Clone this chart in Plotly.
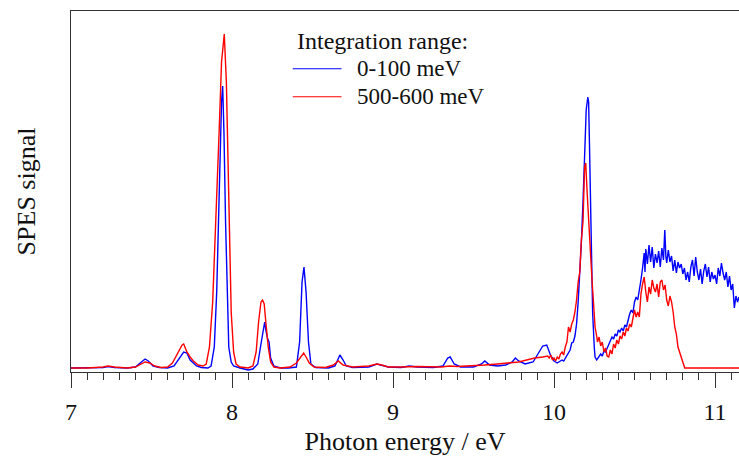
import plotly.graph_objects as go

# === Data (photon energy in eV, SPES signal in arb. units) ===
blue_energy = [
    7.00, 7.10, 7.20, 7.23, 7.27, 7.35, 7.40, 7.43, 7.46, 7.48, 7.51, 7.55,
    7.60, 7.64, 7.67, 7.70, 7.72, 7.74, 7.76, 7.78, 7.81, 7.85, 7.87, 7.89,
    7.905, 7.92, 7.935, 7.942, 7.95, 7.96, 7.97, 7.98, 7.995, 8.01, 8.05, 8.10,
    8.13, 8.16, 8.18, 8.195, 8.203, 8.21, 8.22, 8.23, 8.24, 8.26, 8.30, 8.35,
    8.40, 8.42, 8.435, 8.447, 8.46, 8.475, 8.49, 8.52, 8.60, 8.64, 8.67, 8.69,
    8.71, 8.75, 8.85, 8.90, 8.93, 8.97, 9.05, 9.10, 9.15, 9.25, 9.31, 9.34,
    9.355, 9.38, 9.42, 9.50, 9.55, 9.57, 9.60, 9.65, 9.70, 9.74, 9.76, 9.78,
    9.82, 9.87, 9.90, 9.93, 9.955, 9.97, 9.98, 9.99, 10.00, 10.01, 10.02, 10.03,
    10.04, 10.05, 10.06, 10.07, 10.08, 10.09, 10.10, 10.11, 10.12, 10.13, 10.14,
    10.15, 10.16, 10.17, 10.18, 10.19, 10.20, 10.21, 10.215, 10.22, 10.225,
    10.23, 10.235, 10.24, 10.25, 10.255, 10.265, 10.28, 10.29, 10.30, 10.31,
    10.32, 10.33, 10.34, 10.35, 10.36, 10.37, 10.38, 10.39, 10.40, 10.41, 10.42,
    10.43, 10.44, 10.45, 10.46, 10.47, 10.48, 10.49, 10.50, 10.51, 10.52, 10.53,
    10.54, 10.55, 10.56, 10.565, 10.57, 10.58, 10.59, 10.60, 10.61, 10.62, 10.63,
    10.64, 10.65, 10.66, 10.67, 10.68, 10.688, 10.695, 10.70, 10.71, 10.72, 10.73,
    10.74, 10.75, 10.76, 10.77, 10.78, 10.79, 10.80, 10.81, 10.82, 10.83, 10.84,
    10.85, 10.86, 10.87, 10.88, 10.89, 10.90, 10.91, 10.92, 10.93, 10.94, 10.95,
    10.96, 10.97, 10.98, 10.99, 11.00, 11.01, 11.02, 11.03, 11.04, 11.05, 11.06,
    11.07, 11.08, 11.09, 11.10, 11.11, 11.12, 11.13, 11.14, 11.149,
]
blue_signal = [
    4, 4, 4.5, 5.5, 4.5, 4, 5, 9, 13, 11, 6, 4.5,
    4, 6, 13, 20, 19, 12, 9, 6, 4.5, 4, 6, 25,
    80, 190, 270, 286, 240, 150, 70, 25, 10, 6, 4, 2,
    3, 8, 28, 45, 50, 42, 34, 30, 14, 6, 4, 4,
    5, 30, 90, 105, 80, 30, 8, 4.5, 4, 6, 17, 12,
    6, 4.5, 5, 8, 7, 5, 4.5, 6, 5, 4.5, 6, 14,
    15, 8, 5, 5, 8, 11, 7, 6, 7, 10, 14, 11,
    8, 10, 18, 26, 27, 20, 16, 14, 11, 10, 9, 10,
    11, 12, 11, 14, 16, 20, 22, 29, 30, 36, 48,
    70, 95, 130, 170, 220, 262, 275, 270, 230, 192,
    140, 100, 59, 25, 15, 12, 15, 18, 16, 21,
    20, 24, 27, 31, 35, 33, 38, 36, 42, 40, 44,
    41, 47, 45, 52, 58, 62, 59, 70, 75, 72, 85,
    92, 104, 119, 100, 123, 108, 127, 110, 125, 104, 118,
    109, 121, 105, 124, 112, 142, 115, 109, 122, 110, 116,
    101, 112, 99, 110, 104, 108, 98, 104, 92, 100, 90,
    105, 112, 96, 115, 100, 92, 103, 88, 101, 108, 95,
    105, 90, 100, 93, 97, 88, 104, 96, 109, 99, 92,
    100, 85, 96, 82, 88, 64, 76, 70, 75,
]

red_energy = [
    7.00, 7.10, 7.20, 7.23, 7.27, 7.35, 7.40, 7.44, 7.46, 7.49, 7.52, 7.56,
    7.60, 7.63, 7.66, 7.69, 7.70, 7.72, 7.74, 7.76, 7.79, 7.82, 7.84, 7.86,
    7.88, 7.90, 7.92, 7.935, 7.952, 7.965, 7.975, 7.985, 7.995, 8.01, 8.025,
    8.05, 8.10, 8.13, 8.15, 8.165, 8.18, 8.19, 8.20, 8.21, 8.225, 8.24, 8.26,
    8.30, 8.36, 8.40, 8.43, 8.445, 8.46, 8.48, 8.51, 8.58, 8.63, 8.66, 8.69,
    8.75, 8.85, 8.90, 8.93, 8.97, 9.05, 9.15, 9.30, 9.35, 9.40, 9.50, 9.57,
    9.65, 9.72, 9.78, 9.83, 9.88, 9.93, 9.96, 9.97, 9.98, 9.99, 10.00, 10.01,
    10.02, 10.03, 10.04, 10.05, 10.06, 10.07, 10.08, 10.09, 10.10, 10.11, 10.12,
    10.13, 10.14, 10.15, 10.16, 10.17, 10.18, 10.19, 10.197, 10.205, 10.215,
    10.225, 10.235, 10.245, 10.255, 10.265, 10.27, 10.28, 10.29, 10.30, 10.31,
    10.32, 10.33, 10.34, 10.35, 10.36, 10.37, 10.38, 10.39, 10.40, 10.41, 10.42,
    10.43, 10.44, 10.45, 10.46, 10.47, 10.48, 10.49, 10.50, 10.51, 10.52, 10.53,
    10.54, 10.55, 10.56, 10.57, 10.58, 10.59, 10.60, 10.61, 10.62, 10.63, 10.64,
    10.65, 10.66, 10.67, 10.68, 10.69, 10.70, 10.71, 10.72, 10.73, 10.74, 10.75,
    10.76, 10.77, 10.78, 10.79, 10.80, 10.805, 10.812, 10.90, 11.00, 11.149,
]
red_signal = [
    4, 4, 5, 6, 5, 4, 5, 8, 10, 9, 6, 4.5,
    5, 9, 18, 27, 28, 20, 15, 11, 7, 6, 8, 25,
    70, 150, 240, 310, 338, 290, 200, 120, 60, 20, 8,
    5, 4, 6, 20, 50, 70, 72, 68, 50, 25, 10, 5,
    4, 5, 9, 16, 19, 15, 9, 5, 4.5, 7, 11, 7,
    5, 6, 8, 7, 5, 5, 5.5, 5, 6, 5.5, 6, 7,
    8, 9, 10, 12, 14, 15, 16, 14, 17, 12, 14, 11,
    15, 13, 18, 20, 17, 25, 30, 45, 40, 48, 52,
    60, 72, 90, 100, 132, 150, 205, 209, 182, 150,
    120, 95, 70, 45, 36, 30, 35, 26, 30, 20,
    24, 16, 15, 22, 18, 28, 24, 32, 28, 36, 33,
    40, 36, 44, 41, 48, 45, 56, 62, 55, 60, 55,
    78, 88, 95, 80, 70, 85, 78, 92, 84, 80, 88,
    75, 90, 92, 82, 87, 72, 66, 76, 70, 60, 45,
    38, 25, 20, 14, 11, 8, 4, 4, 4, 4,
]

series_names = ["0-100 meV", "500-600 meV"]
series_colors = ["#0000ff", "#ff0000"]
x_ticks = [7, 8, 9, 10, 11]
legend_title = "Integration range:"

font_family = "Liberation Serif, Times New Roman, serif"

# === Build figure ===
fig = go.Figure()
fig.add_trace(go.Scatter(
    x=blue_energy, y=blue_signal, mode="lines", name=series_names[0],
    line=dict(color=series_colors[0], width=1.4),
))
fig.add_trace(go.Scatter(
    x=red_energy, y=red_signal, mode="lines", name=series_names[1],
    line=dict(color=series_colors[1], width=1.4),
))

# === Hand-placed legend (paper coords of the plot area) ===
fig.add_annotation(
    text=legend_title, xref="paper", yref="paper", x=0.335, y=0.918,
    xanchor="left", yanchor="middle", showarrow=False, font=dict(size=24),
)
for i, (name, color) in enumerate(zip(series_names, series_colors)):
    ly = 0.84 - i * 0.0776
    fig.add_shape(
        type="line", xref="paper", yref="paper",
        x0=0.332, x1=0.405, y0=ly, y1=ly,
        line=dict(color=color, width=1.2),
    )
    fig.add_annotation(
        text=name, xref="paper", yref="paper", x=0.425, y=ly,
        xanchor="left", yanchor="middle", showarrow=False, font=dict(size=23),
    )

fig.update_layout(
    width=739,
    height=456,
    margin=dict(l=71, r=0, t=11, b=84),
    paper_bgcolor="white",
    plot_bgcolor="white",
    font=dict(family=font_family, color="#111111", size=24),
    showlegend=False,
)

fig.update_xaxes(
    range=[7, 11.149],
    tickvals=x_ticks,
    ticks="outside",
    ticklen=15,
    tickwidth=1,
    tickcolor="#333333",
    tickfont=dict(size=24),
    ticklabelstandoff=3,
    minor=dict(dtick=0.1, ticks="outside", ticklen=7, tickwidth=1, tickcolor="#333333"),
    showline=True,
    linecolor="#333333",
    linewidth=1.2,
    mirror=True,
    showgrid=False,
    zeroline=False,
    automargin=False,
    title=dict(text="Photon energy / eV", font=dict(size=26), standoff=8),
)

fig.update_yaxes(
    range=[0, 361],
    showticklabels=False,
    ticks="",
    showline=True,
    linecolor="#333333",
    linewidth=1.2,
    showgrid=False,
    zeroline=False,
    automargin=False,
    title=dict(text="SPES signal", font=dict(size=26), standoff=26),
)

# the page's default body margin would shift the figure; drop it
fig.write_html(
    "out.html",
    config={"displayModeBar": False},
    post_script="document.body.style.margin='0';",
)
